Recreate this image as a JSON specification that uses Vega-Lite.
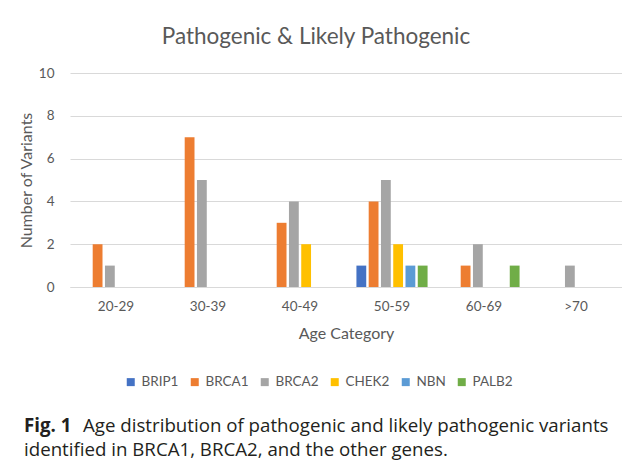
{
  "$schema": "https://vega.github.io/schema/vega-lite/v6.json",
  "padding": {"left": 18, "top": 25, "right": 0, "bottom": 0},
  "background": "white",
  "spacing": 69,
  "config": {
    "font": "Lato",
    "view": {"stroke": null},
    "axis": {"labelColor": "#595959", "titleColor": "#595959", "labelFont": "Lato", "titleFont": "Lato", "titleFontWeight": "normal"}
  },
  "vconcat": [
    {
      "width": 552,
      "height": 214,
      "title": {"text": "Pathogenic & Likely Pathogenic", "fontSize": 22.5, "fontWeight": "normal", "color": "#595959", "font": "Lato", "offset": 18, "dx": -30},
      "data": {"values": [
        {"age": "20-29", "gene": "BRCA1", "count": 2},
        {"age": "20-29", "gene": "BRCA2", "count": 1},
        {"age": "30-39", "gene": "BRCA1", "count": 7},
        {"age": "30-39", "gene": "BRCA2", "count": 5},
        {"age": "40-49", "gene": "BRCA1", "count": 3},
        {"age": "40-49", "gene": "BRCA2", "count": 4},
        {"age": "40-49", "gene": "CHEK2", "count": 2},
        {"age": "50-59", "gene": "BRIP1", "count": 1},
        {"age": "50-59", "gene": "BRCA1", "count": 4},
        {"age": "50-59", "gene": "BRCA2", "count": 5},
        {"age": "50-59", "gene": "CHEK2", "count": 2},
        {"age": "50-59", "gene": "NBN", "count": 1},
        {"age": "50-59", "gene": "PALB2", "count": 1},
        {"age": "60-69", "gene": "BRCA1", "count": 1},
        {"age": "60-69", "gene": "BRCA2", "count": 2},
        {"age": "60-69", "gene": "PALB2", "count": 1},
        {"age": ">70", "gene": "BRCA2", "count": 1}
      ]},
      "mark": {"type": "bar"},
      "encoding": {
        "x": {
          "field": "age", "type": "nominal",
          "sort": ["20-29", "30-39", "40-49", "50-59", "60-69", ">70"],
          "scale": {"domain": ["20-29", "30-39", "40-49", "50-59", "60-69", ">70"], "paddingInner": 0.2, "paddingOuter": 0.1},
          "axis": {"title": "Age Category", "labelAngle": 0, "ticks": false, "domainColor": "#d9d9d9", "labelFontSize": 13.5, "labelPadding": 12, "titleFontSize": 16, "titlePadding": 13}
        },
        "xOffset": {
          "field": "gene", "type": "nominal",
          "scale": {"domain": ["BRIP1", "BRCA1", "BRCA2", "CHEK2", "NBN", "PALB2"], "paddingInner": 0.2, "paddingOuter": 0.1}
        },
        "y": {
          "field": "count", "type": "quantitative",
          "scale": {"domain": [0, 10]},
          "axis": {"title": "Number of Variants", "values": [0, 2, 4, 6, 8, 10], "domain": false, "ticks": false, "gridColor": "#d9d9d9", "labelPadding": 16, "labelFontSize": 13.5, "titleFontSize": 16, "titlePadding": 4}
        },
        "color": {
          "field": "gene", "type": "nominal",
          "scale": {"domain": ["BRIP1", "BRCA1", "BRCA2", "CHEK2", "NBN", "PALB2"], "range": ["#4472C4", "#ED7D31", "#A5A5A5", "#FFC000", "#5B9BD5", "#70AD47"]},
          "legend": {"title": null, "orient": "none", "direction": "horizontal", "legendX": 54, "legendY": 302, "symbolType": "square", "symbolSize": 64, "symbolStrokeWidth": 0, "labelFontSize": 13.5, "labelColor": "#595959", "labelFont": "Lato", "columnPadding": 9, "labelOffset": 4}
        }
      }
    },
    {
      "bounds": "flush",
      "spacing": 0,
      "hconcat": [
        {
          "width": 13, "height": 1,
          "data": {"values": [{}]},
          "mark": {"type": "point", "opacity": 0},
          "encoding": {},
          "title": {"text": "Fig. 1", "subtitle": "identified in BRCA1, BRCA2, and the other genes.", "orient": "bottom", "anchor": "start", "frame": "group", "offset": 0, "dx": -46, "font": "Open Sans", "fontSize": 18.7, "fontWeight": "bold", "color": "#231f20", "subtitleFont": "Open Sans", "subtitleFontSize": 18.7, "subtitleFontWeight": "normal", "subtitleColor": "#231f20", "subtitlePadding": 5.3}
        },
        {
          "width": 530, "height": 1,
          "data": {"values": [{}]},
          "mark": {"type": "point", "opacity": 0},
          "encoding": {},
          "title": {"text": "Age distribution of pathogenic and likely pathogenic variants", "orient": "bottom", "anchor": "start", "frame": "group", "offset": 0, "font": "Open Sans", "fontSize": 18.7, "fontWeight": "normal", "color": "#231f20"}
        }
      ]
    }
  ]
}
